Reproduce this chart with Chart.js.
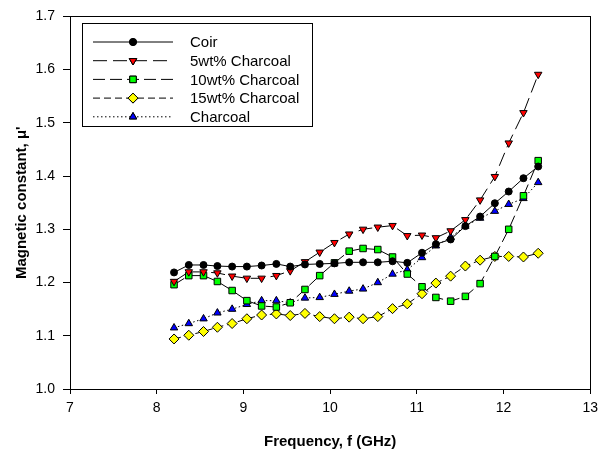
<!DOCTYPE html>
<html lang="en">
<head>
<meta charset="UTF-8">
<title>Magnetic constant vs frequency</title>
<script src="https://cdn.jsdelivr.net/npm/chart.js"></script>
<style>
  html, body { margin: 0; padding: 0; background: #fff; }
  #wrap { width: 604px; height: 459px; }
</style>
</head>
<body>
<div id="wrap"><canvas id="grafica" width="604" height="459"></canvas></div>
<script>
// X-band measurement frequencies (GHz)
const freq = [8.20, 8.37, 8.54, 8.70, 8.87, 9.04, 9.21, 9.38, 9.54, 9.71, 9.88, 10.05, 10.22,
              10.38, 10.55, 10.72, 10.89, 11.06, 11.22, 11.39, 11.56, 11.73, 11.90, 12.06, 12.23, 12.40];

// real part of permeability for each sample
const coir = [1.219, 1.233, 1.233, 1.231, 1.230, 1.230, 1.232, 1.235, 1.230, 1.234, 1.235, 1.236, 1.238,
              1.238, 1.238, 1.240, 1.237, 1.256, 1.272, 1.281, 1.306, 1.324, 1.349, 1.371, 1.396, 1.418];
const wt5 = [1.202, 1.220, 1.220, 1.218, 1.212, 1.208, 1.208, 1.213, 1.222, 1.239, 1.257, 1.275, 1.291,
             1.300, 1.304, 1.307, 1.288, 1.289, 1.284, 1.297, 1.318, 1.355, 1.399, 1.462, 1.519, 1.591];
const wt10 = [1.196, 1.213, 1.213, 1.202, 1.185, 1.166, 1.156, 1.154, 1.162, 1.187, 1.213, 1.237, 1.259,
              1.264, 1.262, 1.248, 1.216, 1.192, 1.172, 1.165, 1.174, 1.198, 1.249, 1.300, 1.363, 1.429];
const wt15 = [1.094, 1.101, 1.108, 1.116, 1.123, 1.132, 1.139, 1.141, 1.138, 1.142, 1.136, 1.132, 1.135,
              1.132, 1.136, 1.151, 1.160, 1.179, 1.199, 1.212, 1.231, 1.242, 1.249, 1.249, 1.248, 1.255];
const charcoal = [1.115, 1.123, 1.132, 1.143, 1.150, 1.159, 1.166, 1.166, 1.162, 1.171, 1.172, 1.178, 1.184,
                  1.188, 1.200, 1.216, 1.224, 1.247, 1.269, 1.285, 1.306, 1.321, 1.334, 1.347, 1.358, 1.388];

const xTicks = [7, 8, 9, 10, 11, 12, 13];
const yTicks = [1.0, 1.1, 1.2, 1.3, 1.4, 1.5, 1.6, 1.7];

const pts = arr => arr.map((v, i) => ({ x: freq[i], y: v }));

function serie(label, values, dash, style, color, radius, rotation) {
  return {
    label: label,
    data: pts(values),
    borderColor: '#000',
    borderWidth: 1,
    borderDash: dash,
    pointStyle: style,
    pointRotation: rotation || 0,
    pointRadius: radius,
    pointBackgroundColor: color,
    pointBorderColor: '#000',
    pointBorderWidth: 1,
    tension: 0
  };
}

// legend box in the upper-left corner, line sample with the marker on it
const legendaBox = {
  id: 'legendaBox',
  afterDraw(chart) {
    const ctx = chart.ctx;
    const x0 = 82, y0 = 23, w = 230, h = 103;
    ctx.save();
    ctx.fillStyle = '#fff';
    ctx.fillRect(x0, y0, w, h);
    ctx.strokeStyle = '#000';
    ctx.lineWidth = 1;
    ctx.strokeRect(x0 + 0.5, y0 + 0.5, w, h);
    ctx.font = '15px "Liberation Sans", Arial, sans-serif';
    ctx.textBaseline = 'middle';
    chart.data.datasets.forEach((ds, i) => {
      const y = 42 + i * 18.7;
      ctx.strokeStyle = '#000';
      ctx.lineWidth = 1;
      ctx.setLineDash(ds.borderDash || []);
      ctx.beginPath();
      ctx.moveTo(93, y);
      ctx.lineTo(173, y);
      ctx.stroke();
      ctx.setLineDash([]);
      Chart.helpers.drawPoint(ctx, {
        pointStyle: ds.pointStyle, rotation: ds.pointRotation, radius: ds.pointRadius, borderWidth: 1
      }, 133, y);
      ctx.fillStyle = ds.pointBackgroundColor;
      ctx.strokeStyle = '#000';
      Chart.helpers.drawPoint(ctx, {
        pointStyle: ds.pointStyle, rotation: ds.pointRotation, radius: ds.pointRadius, borderWidth: 1
      }, 133, y);
      ctx.fillStyle = '#000';
      ctx.fillText(ds.label, 190, y + 1);
    });
    ctx.restore();
  }
};

// closed frame around the plot area
const marco = {
  id: 'marco',
  afterDatasetsDraw(chart) {
    const a = chart.chartArea, ctx = chart.ctx;
    ctx.save();
    ctx.strokeStyle = '#000';
    ctx.lineWidth = 1;
    ctx.strokeRect(Math.round(a.left) + 0.5, Math.round(a.top) + 0.5,
                   Math.round(a.right - a.left), Math.round(a.bottom - a.top));
    ctx.restore();
  }
};

const fuente = '"Liberation Sans", Arial, sans-serif';

new Chart(document.getElementById('grafica').getContext('2d'), {
  type: 'line',
  data: {
    datasets: [
      serie('Coir', coir, [], 'circle', '#000', 3.5),
      serie('5wt% Charcoal', wt5, [14, 6], 'triangle', '#ff0000', 4.3, 180),
      serie('10wt% Charcoal', wt10, [12, 5], 'rect', '#00ff00', 4.6),
      serie('15wt% Charcoal', wt15, [7, 4], 'rectRot', '#ffff00', 5),
      serie('Charcoal', charcoal, [1.5, 2.5], 'triangle', '#0000ff', 4.3)
    ]
  },
  options: {
    responsive: false,
    animation: false,
    devicePixelRatio: 1,
    layout: { padding: { top: 9, right: 8, left: 0, bottom: 0 } },
    plugins: { legend: { display: false }, tooltip: { enabled: false } },
    scales: {
      x: {
        type: 'linear',
        min: 7, max: 13,
        afterFit: s => { s.height = 70; },
        afterBuildTicks: s => { s.ticks = xTicks.map(v => ({ value: v })); },
        grid: { drawOnChartArea: false, color: '#000', tickLength: 5 },
        border: { display: true, color: '#000' },
        ticks: { color: '#000', padding: 6, maxRotation: 0, font: { family: fuente, size: 14 } },
        title: {
          display: true, text: 'Frequency, f (GHz)', color: '#000',
          padding: { top: 0, bottom: 8 },
          font: { family: fuente, size: 15, weight: 'bold' }
        }
      },
      y: {
        min: 1.0, max: 1.7,
        afterFit: s => { s.width = 70; },
        afterBuildTicks: s => { s.ticks = yTicks.map(v => ({ value: v })); },
        grid: { drawOnChartArea: false, color: '#000', tickLength: 7 },
        border: { display: true, color: '#000' },
        ticks: {
          color: '#000', padding: 8,
          font: { family: fuente, size: 14 },
          callback: v => v.toFixed(1)
        },
        title: {
          display: true, text: "Magnetic constant, \u03bc'", color: '#000',
          padding: { top: 13, bottom: 0 },
          font: { family: fuente, size: 15, weight: 'bold' }
        }
      }
    }
  },
  plugins: [marco, legendaBox]
});
</script>
</body>
</html>
